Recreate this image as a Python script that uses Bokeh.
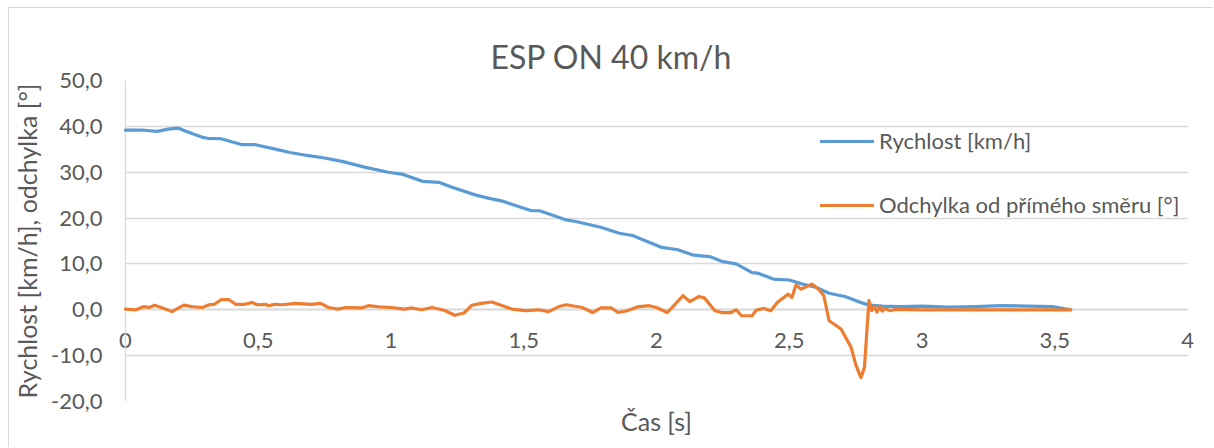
from bokeh.plotting import figure
from bokeh.models import (Range1d, FixedTicker, LinearAxis, Legend, LegendItem, Title, Span)
from bokeh.embed import file_html
from bokeh.resources import INLINE

# ---- data -------------------------------------------------------------
# speed of the vehicle [km/h] over time [s]
t_speed = [0.0, 0.06, 0.12, 0.16, 0.2, 0.23, 0.29, 0.31, 0.36, 0.44, 0.49, 0.56,
           0.62, 0.69, 0.75, 0.82, 0.9, 0.99, 1.04, 1.12, 1.18, 1.23, 1.32, 1.37,
           1.42, 1.46, 1.53, 1.56, 1.59, 1.66, 1.7, 1.79, 1.86, 1.91, 2.02, 2.08,
           2.14, 2.2, 2.25, 2.3, 2.36, 2.38, 2.44, 2.5, 2.55, 2.6, 2.65, 2.71,
           2.75, 2.8, 2.85, 2.92, 3.0, 3.1, 3.2, 3.3, 3.4, 3.49, 3.56]
speed = [39.2, 39.2, 38.9, 39.4, 39.6, 38.9, 37.6, 37.4, 37.3, 36.0, 36.0, 35.1,
         34.3, 33.6, 33.1, 32.3, 31.1, 30.0, 29.6, 28.0, 27.8, 26.7, 25.0, 24.3,
         23.7, 22.9, 21.6, 21.6, 21.0, 19.6, 19.2, 18.0, 16.7, 16.2, 13.6, 13.1,
         11.9, 11.6, 10.5, 10.0, 8.1, 8.0, 6.7, 6.5, 5.6, 4.9, 3.6, 2.9,
         2.0, 1.0, 0.8, 0.7, 0.8, 0.6, 0.7, 0.9, 0.8, 0.7, 0.0]

# deviation from the straight direction [deg] over time [s]
t_dev = [0.0, 0.04, 0.07, 0.09, 0.11, 0.14, 0.175, 0.22, 0.25, 0.29,
         0.315, 0.335, 0.36, 0.39, 0.415, 0.45, 0.477, 0.496, 0.527, 0.54,
         0.565, 0.59, 0.64, 0.70, 0.735, 0.765, 0.80, 0.83, 0.89, 0.915,
         0.955, 1.0, 1.05, 1.08, 1.115, 1.155, 1.2, 1.24, 1.275, 1.305,
         1.34, 1.38, 1.42, 1.455, 1.505, 1.555, 1.594, 1.63, 1.66, 1.72,
         1.76, 1.79, 1.83, 1.855, 1.89, 1.93, 1.97, 2.0, 2.04, 2.07,
         2.10, 2.125, 2.16, 2.18, 2.22, 2.245, 2.28, 2.30, 2.32, 2.36,
         2.375, 2.405, 2.43, 2.455, 2.495, 2.51, 2.525, 2.545, 2.585, 2.61,
         2.63, 2.65, 2.695, 2.733, 2.75, 2.77, 2.783, 2.80, 2.81, 2.82,
         2.83, 2.84, 2.85, 2.86, 2.88, 2.9, 3.0, 3.56]
dev = [0.15, 0.0, 0.7, 0.5, 1.0, 0.4, -0.4, 1.0, 0.7, 0.5,
       1.1, 1.2, 2.2, 2.2, 1.2, 1.2, 1.6, 1.1, 1.2, 0.9,
       1.2, 1.1, 1.4, 1.2, 1.4, 0.5, 0.15, 0.5, 0.4, 0.9,
       0.65, 0.5, 0.15, 0.4, 0.0, 0.5, -0.1, -1.2, -0.7, 1.0,
       1.4, 1.7, 0.9, 0.15, -0.2, 0.0, -0.4, 0.65, 1.1, 0.5,
       -0.6, 0.4, 0.4, -0.6, -0.2, 0.65, 0.9, 0.5, -0.6, 1.2,
       3.1, 1.8, 2.9, 2.6, -0.2, -0.6, -0.6, 0.0, -1.3, -1.3,
       -0.1, 0.3, -0.2, 1.6, 3.4, 2.7, 5.4, 4.5, 5.6, 4.5,
       3.1, -2.4, -4.2, -8.2, -11.9, -14.8, -12.6, 2.0, -0.2, 0.8,
       -0.5, 0.6, -0.3, 0.3, -0.2, 0.1, 0.0, 0.0]

series_names = ["Rychlost [km/h]", "Odchylka od přímého směru [°]"]

x_ticks = [0, 0.5, 1, 1.5, 2, 2.5, 3, 3.5, 4]
x_tick_labels = ["0", "0,5", "1", "1,5", "2", "2,5", "3", "3,5", "4"]
y_ticks = [-20, -10, 0, 10, 20, 30, 40, 50]
y_tick_labels = ["-20,0", "-10,0", "0,0", "10,0", "20,0", "30,0", "40,0", "50,0"]

# ---- styling ----------------------------------------------------------
FONT = "Lato"
TEXT = "#595959"
GRID = "#d9d9d9"
BLUE = "#5B9BD5"
ORANGE = "#ED7D31"

# the frame is a little wider than 0..4 so the end tick labels are not clipped
p = figure(width=1205, height=440, output_backend="svg", toolbar_location=None,
           x_range=Range1d(-0.06, 4.06), y_range=Range1d(-20, 50),
           x_axis_location=None,
           min_border_left=98, min_border_right=11,
           min_border_top=72, min_border_bottom=47)
p.margin = (7, 0, 0, 8)
p.styles = {"border-left": "1px solid #d9d9d9", "border-top": "1px solid #d9d9d9"}
p.outline_line_color = None
p.background_fill_color = "white"
p.border_fill_color = "white"
p.xgrid.visible = False

# title
p.title.text = "ESP ON 40 km/h"
p.title.align = "left"
p.title.offset = 381
p.title.text_font = FONT
p.title.text_font_size = "32px"
p.title.text_font_style = "normal"
p.title.text_color = TEXT
p.title.standoff = 10

# vertical axis (its line is drawn as a span at t = 0)
yax = p.yaxis[0]
yax.ticker = FixedTicker(ticks=y_ticks)
yax.major_label_overrides = dict(zip(y_ticks, y_tick_labels))
yax.axis_line_color = None
yax.major_tick_line_color = None
yax.minor_tick_line_color = None
yax.major_tick_out = 0
yax.major_label_standoff = 7
yax.major_label_text_font = FONT
yax.major_label_text_font_size = "22px"
yax.major_label_text_color = TEXT
yax.axis_label = "Rychlost [km/h], odchylka [°]"
yax.axis_label_text_font = FONT
yax.axis_label_text_font_size = "25px"
yax.axis_label_text_font_style = "normal"
yax.axis_label_text_color = TEXT
yax.axis_label_standoff = 6

p.add_layout(Span(location=0, dimension="height", line_color=GRID,
                  line_width=1.3, level="underlay"))

p.ygrid.ticker = yax.ticker
p.ygrid.grid_line_color = GRID
p.ygrid.grid_line_width = 1.3
p.ygrid.cross_bounds = (0, 4)

# horizontal axis crossing at zero
xax = LinearAxis(fixed_location=0, ticker=FixedTicker(ticks=x_ticks),
                 major_label_overrides=dict(zip(x_ticks, x_tick_labels)),
                 bounds=(0, 4),
                 axis_line_color="#c8c8c8", axis_line_width=1.3,
                 major_tick_line_color=None, minor_tick_line_color=None,
                 major_tick_out=0, major_label_standoff=23,
                 major_label_text_font=FONT, major_label_text_font_size="22px",
                 major_label_text_color=TEXT, level="underlay")
p.add_layout(xax, "below")
p.add_layout(Title(text="Čas [s]", align="center", offset=-16, text_font=FONT,
                   text_font_size="25px", text_font_style="normal",
                   text_color=TEXT, standoff=4), "below")

# series
r_speed = p.line(t_speed, speed, line_color=BLUE, line_width=3.2,
                 line_join="round", line_cap="round")
r_dev = p.line(t_dev, dev, line_color=ORANGE, line_width=3.2,
               line_join="round", line_cap="round")

legend = Legend(items=[LegendItem(label=series_names[0], renderers=[r_speed]),
                       LegendItem(label=series_names[1], renderers=[r_dev])],
                location=(711, 183), orientation="vertical",
                padding=0, margin=0, spacing=37,
                glyph_width=54, glyph_height=26, label_height=26,
                label_standoff=5,
                background_fill_alpha=0, border_line_alpha=0,
                label_text_font=FONT, label_text_font_size="22px",
                label_text_color=TEXT)
p.add_layout(legend)

open("out.html", "w").write(file_html(p, INLINE))
